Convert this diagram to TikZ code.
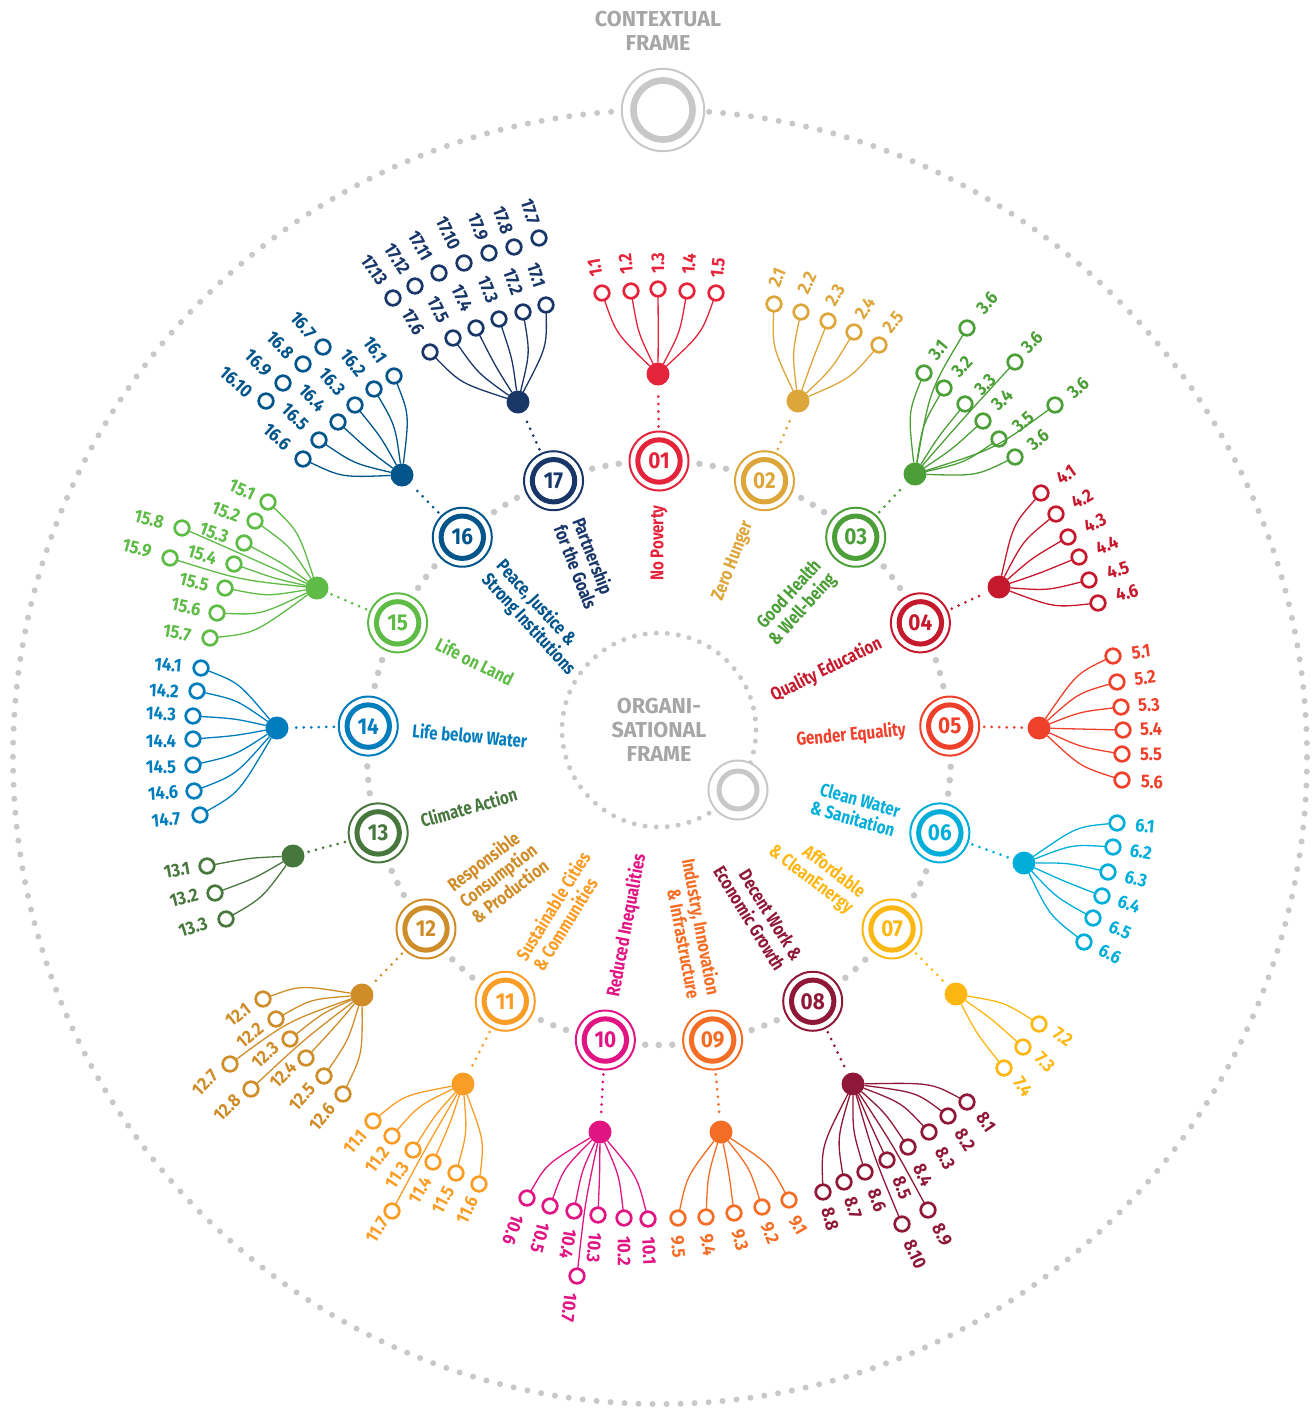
\documentclass[tikz,border=0pt]{standalone}
\usepackage{fontspec}
\setmainfont{Fira Sans}[FakeStretch=0.82]
\newfontfamily\framefont{Fira Sans}
\newfontfamily\lblfont{Fira Sans}[FakeStretch=0.9]
\usetikzlibrary{calc}
\definecolor{c01}{HTML}{E5243B}
\definecolor{c02}{HTML}{DDA63A}
\definecolor{c03}{HTML}{4C9F38}
\definecolor{c04}{HTML}{C5192D}
\definecolor{c05}{HTML}{EF402B}
\definecolor{c06}{HTML}{00AED9}
\definecolor{c07}{HTML}{FDB713}
\definecolor{c08}{HTML}{8F1838}
\definecolor{c09}{HTML}{F36D25}
\definecolor{c10}{HTML}{E11484}
\definecolor{c11}{HTML}{F99D26}
\definecolor{c12}{HTML}{CF8D2A}
\definecolor{c13}{HTML}{48773E}
\definecolor{c14}{HTML}{007DBC}
\definecolor{c15}{HTML}{5DBB46}
\definecolor{c16}{HTML}{02558B}
\definecolor{c17}{HTML}{183668}
\definecolor{gr}{HTML}{C8C8C8}
\definecolor{grt}{HTML}{A6A6A6}
\colorlet{cc}{black}
\tikzset{
  gring/.style={circle,draw=cc,fill=white,line width=1pt,minimum size=29.5pt,inner sep=0pt,outer sep=0pt,text=cc,font=\lblfont\bfseries\fontsize{11.5}{12}\selectfont},
  gdot/.style={circle,fill=cc,minimum size=11.5pt,inner sep=0pt,outer sep=0pt},
  tc/.style={circle,draw=cc,fill=white,line width=1.35pt,minimum size=7.3pt,inner sep=0pt,outer sep=0pt},
  tl/.style={text=cc,font=\lblfont\bfseries\fontsize{9.2}{10}\selectfont,inner sep=0pt},
  ln/.style={draw=cc,line width=0.65pt},
  conn/.style={draw=cc,line width=1.5pt,line cap=round,dash pattern=on 0pt off 3.75pt,shorten <=2.5pt,shorten >=2pt},
  gname/.style={text=cc,font=\bfseries\fontsize{9.2}{10}\selectfont,inner sep=0pt},
  ftext/.style={text=grt,font=\framefont\bfseries\fontsize{10.8}{12}\selectfont,align=center,inner sep=0pt},
}
\newcommand\goal[3]{%
  \node[gring] (g#1) at ($(C)+(#2:146pt)$) {#3};
  \draw[draw=cc,line width=2.5pt] (g#1.center) circle (10.6pt);
}
\newcommand\tg[7]{%
  \node[tc] (#1) at (#2,#3) {};
  \node[tl,rotate=#6] (#1l) at (#2+#4,#3+#5) {#7};
}
\newcommand\lk[3]{%
  \coordinate (pp) at ($(#1)!(#3)!(#2)$);
  \coordinate (qq) at ($(#1)!0.5!(pp)$);
  \draw[ln] (#1) .. controls ($(qq)+0.75*(#3)-0.75*(pp)$) .. (#3);
}
\newcommand\lks[2]{\foreach \q in {#2}{\lk{d#1}{g#1}{\q}}}
\begin{document}
\begin{tikzpicture}[x=0.5pt,y=-0.5pt]
\useasboundingbox (0,0) rectangle (1316,1410);
\coordinate (C) at (659,753);
% frames
\draw[gr,line width=3pt,line cap=round,dash pattern=on 0pt off 7.009pt] (660,757) circle (323.5pt);
\draw[gr,line width=2.5pt,line cap=round,dash pattern=on 0pt off 5.54pt] (659,730) circle (48.5pt);
\filldraw[draw=gr,fill=white,line width=1pt] (663,110) circle (20.6pt);
\draw[gr,line width=3.3pt] (663,110) circle (14.75pt);
\filldraw[draw=gr,fill=white,line width=1pt] (738,790) circle (14.75pt);
\draw[gr,line width=2.5pt] (738,790) circle (9.5pt);
\node[ftext] (ctx) at (658,31) {CONTEXTUAL\\FRAME};
\node[ftext] (org) at (659,730) {ORGANI-\\SATIONAL\\FRAME};
\draw[gr,line width=3.25pt,line cap=round,dash pattern=on 0pt off 6.745pt] (C) circle (146pt);

% ---------- 01
\colorlet{cc}{c01}
\goal{1}{90}{01}
\node[gdot] (d1) at (658,374) {};
\tg{t1a}{602}{293}{-7}{-25}{100}{1.1}
\tg{t1b}{631}{291}{-5}{-27}{96}{1.2}
\tg{t1c}{658}{289}{0}{-26}{90}{1.3}
\tg{t1d}{687}{291}{2}{-27}{86}{1.4}
\tg{t1e}{716}{293}{2}{-25}{84}{1.5}
\lks{1}{t1a,t1b,t1c,t1d,t1e}
\draw[conn] (g1) -- (d1);
\node[gname,anchor=east,rotate=90,align=right] (n1) at ($(C)+(90:124pt)$) {No Poverty};

% ---------- 02
\colorlet{cc}{c02}
\goal{2}{68.824}{02}
\node[gdot] (d2) at (798,401) {};
\tg{t2a}{774}{304}{3}{-26}{68}{2.1}
\tg{t2b}{801}{312}{6}{-29}{64}{2.2}
\tg{t2c}{828}{321}{7}{-26}{60}{2.3}
\tg{t2d}{854}{332}{11}{-24}{56}{2.4}
\tg{t2e}{879}{345}{14}{-23}{52}{2.5}
\lks{2}{t2a,t2b,t2c,t2d,t2e}
\draw[conn] (g2) -- (d2);
\node[gname,anchor=east,rotate=68.824,align=right] (n2) at ($(C)+(68.824:124pt)$) {Zero Hunger};

% ---------- 03
\colorlet{cc}{c03}
\goal{3}{47.647}{03}
\node[gdot] (d3) at (915,474) {};
\tg{t3a}{924}{373}{14}{-23}{50}{3.1}
\tg{t3b}{944}{388}{18}{-21}{47}{3.2}
\tg{t3c}{965}{404}{20}{-19}{45}{3.3}
\tg{t3d}{983}{421}{19}{-21}{43}{3.4}
\tg{t3e}{999}{439}{24}{-17}{41}{3.5}
\tg{t3f}{1015}{457}{23}{-17}{39}{3.6}
\tg{t3g}{967}{328}{20}{-25}{48}{3.6}
\tg{t3h}{1015}{362}{17}{-20}{45}{3.6}
\tg{t3i}{1055}{405}{23}{-17}{42}{3.6}
\lks{3}{t3a,t3b,t3c,t3d,t3e,t3f,t3g,t3h,t3i}
\draw[conn] (g3) -- (d3);
\node[gname,anchor=east,rotate=47.647,align=right] (n3) at ($(C)+(47.647:124pt)$) {Good Health\\\& Well-being};

% ---------- 04
\colorlet{cc}{c04}
\goal{4}{26.471}{04}
\node[gdot] (d4) at (999,587) {};
\tg{t4a}{1041}{493}{25}{-18}{35}{4.1}
\tg{t4b}{1056}{514}{26}{-15}{31}{4.2}
\tg{t4c}{1068}{537}{27}{-14}{27}{4.3}
\tg{t4d}{1079}{557}{28}{-12}{23}{4.4}
\tg{t4e}{1089}{580}{29}{-10}{19}{4.5}
\tg{t4f}{1098}{603}{29}{-10}{15}{4.6}
\lks{4}{t4a,t4b,t4c,t4d,t4e,t4f}
\draw[conn] (g4) -- (d4);
\node[gname,anchor=east,rotate=26.471,align=right] (n4) at ($(C)+(26.471:124pt)$) {Quality Education};

% ---------- 05
\colorlet{cc}{c05}
\goal{5}{5.294}{05}
\node[gdot] (d5) at (1039,728) {};
\tg{t5a}{1113}{656}{28}{-4}{8}{5.1}
\tg{t5b}{1117}{682}{28}{-4}{6}{5.2}
\tg{t5c}{1121}{707}{28}{-2}{4}{5.3}
\tg{t5d}{1123}{730}{28}{-1}{2}{5.4}
\tg{t5e}{1122}{754}{29}{0}{0}{5.5}
\tg{t5f}{1122}{780}{30}{2}{-2}{5.6}
\lks{5}{t5a,t5b,t5c,t5d,t5e,t5f}
\draw[conn] (g5) -- (d5);
\node[gname,anchor=east,rotate=5.294,align=right] (n5) at ($(C)+(5.294:124pt)$) {Gender Equality};

% ---------- 06
\colorlet{cc}{c06}
\goal{6}{-15.882}{06}
\node[gdot] (d6) at (1024,863) {};
\tg{t6a}{1117}{823}{28}{3}{-5}{6.1}
\tg{t6b}{1113}{847}{28}{5}{-10}{6.2}
\tg{t6c}{1108}{872}{28}{7}{-15}{6.3}
\tg{t6d}{1102}{896}{27}{8}{-20}{6.4}
\tg{t6e}{1093}{918}{27}{12}{-24}{6.5}
\tg{t6f}{1084}{942}{26}{12}{-28}{6.6}
\lks{6}{t6a,t6b,t6c,t6d,t6e,t6f}
\draw[conn] (g6) -- (d6);
\node[gname,anchor=east,rotate=-15.882,align=right] (n6) at ($(C)+(-15.882:124pt)$) {Clean Water\\\& Sanitation};

% ---------- 07
\colorlet{cc}{c07}
\goal{7}{-37.059}{07}
\node[gdot] (d7) at (956,994) {};
\tg{t7a}{1039}{1024}{24}{13}{-35}{7.2}
\tg{t7b}{1023}{1047}{22}{15}{-45}{7.3}
\tg{t7c}{1004}{1068}{19}{19}{-55}{7.4}
\lks{7}{t7a,t7b,t7c}
\draw[conn] (g7) -- (d7);
\node[gname,anchor=east,rotate=-37.059,align=right] (n7) at ($(C)+(-37.059:124pt)$) {Affordable\\\& CleanEnergy};

% ---------- 08
\colorlet{cc}{c08}
\goal{8}{-58.235}{08}
\node[gdot] (d8) at (853,1084) {};
\tg{t8a}{967}{1102}{19}{20}{-55}{8.1}
\tg{t8b}{948}{1116}{17}{24}{-58}{8.2}
\tg{t8c}{929}{1132}{16}{26}{-62}{8.3}
\tg{t8d}{908}{1147}{15}{28}{-65}{8.4}
\tg{t8e}{887}{1160}{15}{28}{-68}{8.5}
\tg{t8f}{865}{1172}{12}{28}{-70}{8.6}
\tg{t8g}{844}{1182}{9}{26}{-72}{8.7}
\tg{t8h}{823}{1192}{7}{27}{-75}{8.8}
\tg{t8i}{928}{1210}{14}{25}{-62}{8.9}
\tg{t8j}{902}{1224}{13}{30}{-65}{8.10}
\lks{8}{t8a,t8b,t8c,t8d,t8e,t8f,t8g,t8h,t8i,t8j}
\draw[conn] (g8) -- (d8);
\node[gname,anchor=east,rotate=-58.235,align=right] (n8) at ($(C)+(-58.235:124pt)$) {Decent Work \&\\Economic Growth};

% ---------- 09
\colorlet{cc}{c09}
\goal{9}{-79.412}{09}
\node[gdot] (d9) at (721,1132) {};
\tg{t9a}{789}{1200}{9}{25}{-60}{9.1}
\tg{t9b}{762}{1207}{8}{26}{-68}{9.2}
\tg{t9c}{734}{1213}{6}{27}{-75}{9.3}
\tg{t9d}{706}{1217}{2}{28}{-80}{9.4}
\tg{t9e}{678}{1218}{0}{29}{-85}{9.5}
\lks{9}{t9a,t9b,t9c,t9d,t9e}
\draw[conn] (g9) -- (d9);
\node[gname,anchor=east,rotate=-79.412,align=right] (n9) at ($(C)+(-79.412:124pt)$) {Industry, Innovation\\\& Infrastructure};

% ---------- 10
\colorlet{cc}{c10}
\goal{10}{-100.588}{10}
\node[gdot] (d10) at (600,1132) {};
\tg{t10a}{648}{1219}{1}{32}{-87}{10.1}
\tg{t10b}{624}{1218}{0}{33}{-90}{10.2}
\tg{t10c}{598}{1215}{-4}{33}{-95}{10.3}
\tg{t10d}{574}{1211}{-6}{33}{-100}{10.4}
\tg{t10e}{550}{1206}{-10}{32}{-105}{10.5}
\tg{t10f}{527}{1198}{-14}{32}{-110}{10.6}
\tg{t10g}{577}{1276}{-8}{32}{-97}{10.7}
\lks{10}{t10a,t10b,t10c,t10d,t10e,t10f,t10g}
\draw[conn] (g10) -- (d10);
\node[gname,anchor=west,rotate=79.412,align=left] (n10) at ($(C)+(-100.588:124pt)$) {Reduced Inequalities};

% ---------- 11
\colorlet{cc}{c11}
\goal{11}{-121.765}{11}
\node[gdot] (d11) at (463,1084) {};
\tg{t11a}{373}{1121}{-18}{21}{50}{11.1}
\tg{t11b}{392}{1136}{-15}{24}{53}{11.2}
\tg{t11c}{413}{1150}{-16}{25}{56}{11.3}
\tg{t11d}{433}{1162}{-13}{28}{59}{11.4}
\tg{t11e}{456}{1173}{-13}{27}{62}{11.5}
\tg{t11f}{479}{1184}{-12}{26}{65}{11.6}
\tg{t11g}{392}{1211}{-15}{19}{58}{11.7}
\lks{11}{t11a,t11b,t11c,t11d,t11e,t11f,t11g}
\draw[conn] (g11) -- (d11);
\node[gname,anchor=west,rotate=58.235,align=left] (n11) at ($(C)+(-121.765:124pt)$) {Sustainable Cities\\\& Communities};

% ---------- 12
\colorlet{cc}{c12}
\goal{12}{-142.941}{12}
\node[gdot] (d12) at (362,995) {};
\tg{t12a}{263}{999}{-25}{16}{38}{12.1}
\tg{t12b}{276}{1019}{-26}{16}{40}{12.2}
\tg{t12c}{290}{1039}{-25}{16}{42}{12.3}
\tg{t12d}{306}{1058}{-23}{17}{45}{12.4}
\tg{t12e}{324}{1076}{-22}{21}{48}{12.5}
\tg{t12f}{343}{1094}{-21}{23}{50}{12.6}
\tg{t12g}{230}{1064}{-25}{19}{45}{12.7}
\tg{t12h}{251}{1089}{-24}{19}{45}{12.8}
\lks{12}{t12a,t12b,t12c,t12d,t12e,t12f,t12g,t12h}
\draw[conn] (g12) -- (d12);
\node[gname,anchor=west,rotate=37.059,align=left] (n12) at ($(C)+(-142.941:124pt)$) {Responsible\\Consumption\\\& Production};

% ---------- 13
\colorlet{cc}{c13}
\goal{13}{-164.118}{13}
\node[gdot] (d13) at (293,856) {};
\tg{t13a}{207}{866}{-30}{4}{10}{13.1}
\tg{t13b}{215}{893}{-31}{5}{14}{13.2}
\tg{t13c}{226}{919}{-33}{8}{18}{13.3}
\lks{13}{t13a,t13b,t13c}
\draw[conn] (g13) -- (d13);
\node[gname,anchor=west,rotate=15.882,align=left] (n13) at ($(C)+(-164.118:124pt)$) {Climate Action};

% ---------- 14
\colorlet{cc}{c14}
\goal{14}{174.706}{14}
\node[gdot] (d14) at (277,728) {};
\tg{t14a}{201}{668}{-33}{-3}{-5}{14.1}
\tg{t14b}{197}{691}{-33}{0}{-3}{14.2}
\tg{t14c}{193}{716}{-32}{-2}{-2}{14.3}
\tg{t14d}{193}{739}{-32}{2}{0}{14.4}
\tg{t14e}{193}{765}{-32}{2}{2}{14.5}
\tg{t14f}{194}{791}{-31}{2}{3}{14.6}
\tg{t14g}{200}{815}{-34}{5}{5}{14.7}
\lks{14}{t14a,t14b,t14c,t14d,t14e,t14f,t14g}
\draw[conn] (g14) -- (d14);
\node[gname,anchor=west,rotate=-5.294,align=left] (n14) at ($(C)+(174.706:124pt)$) {Life below Water};

% ---------- 15
\colorlet{cc}{c15}
\goal{15}{153.529}{15}
\node[gdot] (d15) at (317,588) {};
\tg{t15a}{268}{502}{-26}{-12}{-25}{15.1}
\tg{t15b}{255}{521}{-29}{-9}{-22}{15.2}
\tg{t15c}{244}{543}{-30}{-10}{-20}{15.3}
\tg{t15d}{234}{564}{-32}{-9}{-17}{15.4}
\tg{t15e}{225}{588}{-31}{-6}{-14}{15.5}
\tg{t15f}{217}{613}{-31}{-6}{-12}{15.6}
\tg{t15g}{210}{638}{-33}{-5}{-10}{15.7}
\tg{t15h}{182}{528}{-33}{-9}{-15}{15.8}
\tg{t15i}{170}{558}{-33}{-10}{-15}{15.9}
\lks{15}{t15a,t15b,t15c,t15d,t15e,t15f,t15g,t15h,t15i}
\draw[conn] (g15) -- (d15);
\node[gname,anchor=west,rotate=-26.471,align=left] (n15) at ($(C)+(153.529:124pt)$) {Life on Land};

% ---------- 16
\colorlet{cc}{c16}
\goal{16}{132.353}{16}
\node[gdot] (d16) at (402,475) {};
\tg{t16a}{394}{376}{-19}{-26}{-55}{16.1}
\tg{t16b}{374}{389}{-21}{-26}{-52}{16.2}
\tg{t16c}{355}{405}{-23}{-23}{-50}{16.3}
\tg{t16d}{338}{422}{-26}{-24}{-47}{16.4}
\tg{t16e}{319}{440}{-24}{-23}{-45}{16.5}
\tg{t16f}{303}{459}{-26}{-22}{-42}{16.6}
\tg{t16g}{323}{347}{-20}{-22}{-50}{16.7}
\tg{t16h}{303}{364}{-23}{-19}{-47}{16.8}
\tg{t16i}{283}{383}{-25}{-20}{-45}{16.9}
\tg{t16j}{266}{401}{-30}{-19}{-42}{16.10}
\lks{16}{t16a,t16b,t16c,t16d,t16e,t16f}
\draw[conn] (g16) -- (d16);
\node[gname,anchor=west,rotate=-47.647,align=left] (n16) at ($(C)+(132.353:124pt)$) {Peace, Justice \&\\Strong Institutions};

% ---------- 17
\colorlet{cc}{c17}
\goal{17}{111.176}{17}
\node[gdot] (d17) at (518,402) {};
\tg{t17a}{546}{305}{-10}{-30}{-72}{17.1}
\tg{t17b}{523}{312}{-10}{-30}{-70}{17.2}
\tg{t17c}{499}{319}{-11}{-29}{-68}{17.3}
\tg{t17d}{476}{328}{-14}{-30}{-65}{17.4}
\tg{t17e}{453}{338}{-15}{-28}{-63}{17.5}
\tg{t17f}{430}{352}{-17}{-30}{-60}{17.6}
\tg{t17g}{539}{238}{-9}{-26}{-72}{17.7}
\tg{t17h}{514}{247}{-11}{-27}{-70}{17.8}
\tg{t17i}{489}{253}{-11}{-26}{-68}{17.9}
\tg{t17j}{464}{263}{-16}{-30}{-64}{17.10}
\tg{t17k}{439}{273}{-19}{-27}{-61}{17.11}
\tg{t17l}{415}{286}{-18}{-27}{-58}{17.12}
\tg{t17m}{393}{298}{-19}{-28}{-55}{17.13}
\lks{17}{t17a,t17b,t17c,t17d,t17e,t17f}
\draw[conn] (g17) -- (d17);
\node[gname,anchor=west,rotate=-68.824,align=left] (n17) at ($(C)+(111.176:124pt)$) {Partnership\\for the Goals};
\end{tikzpicture}
\end{document}
